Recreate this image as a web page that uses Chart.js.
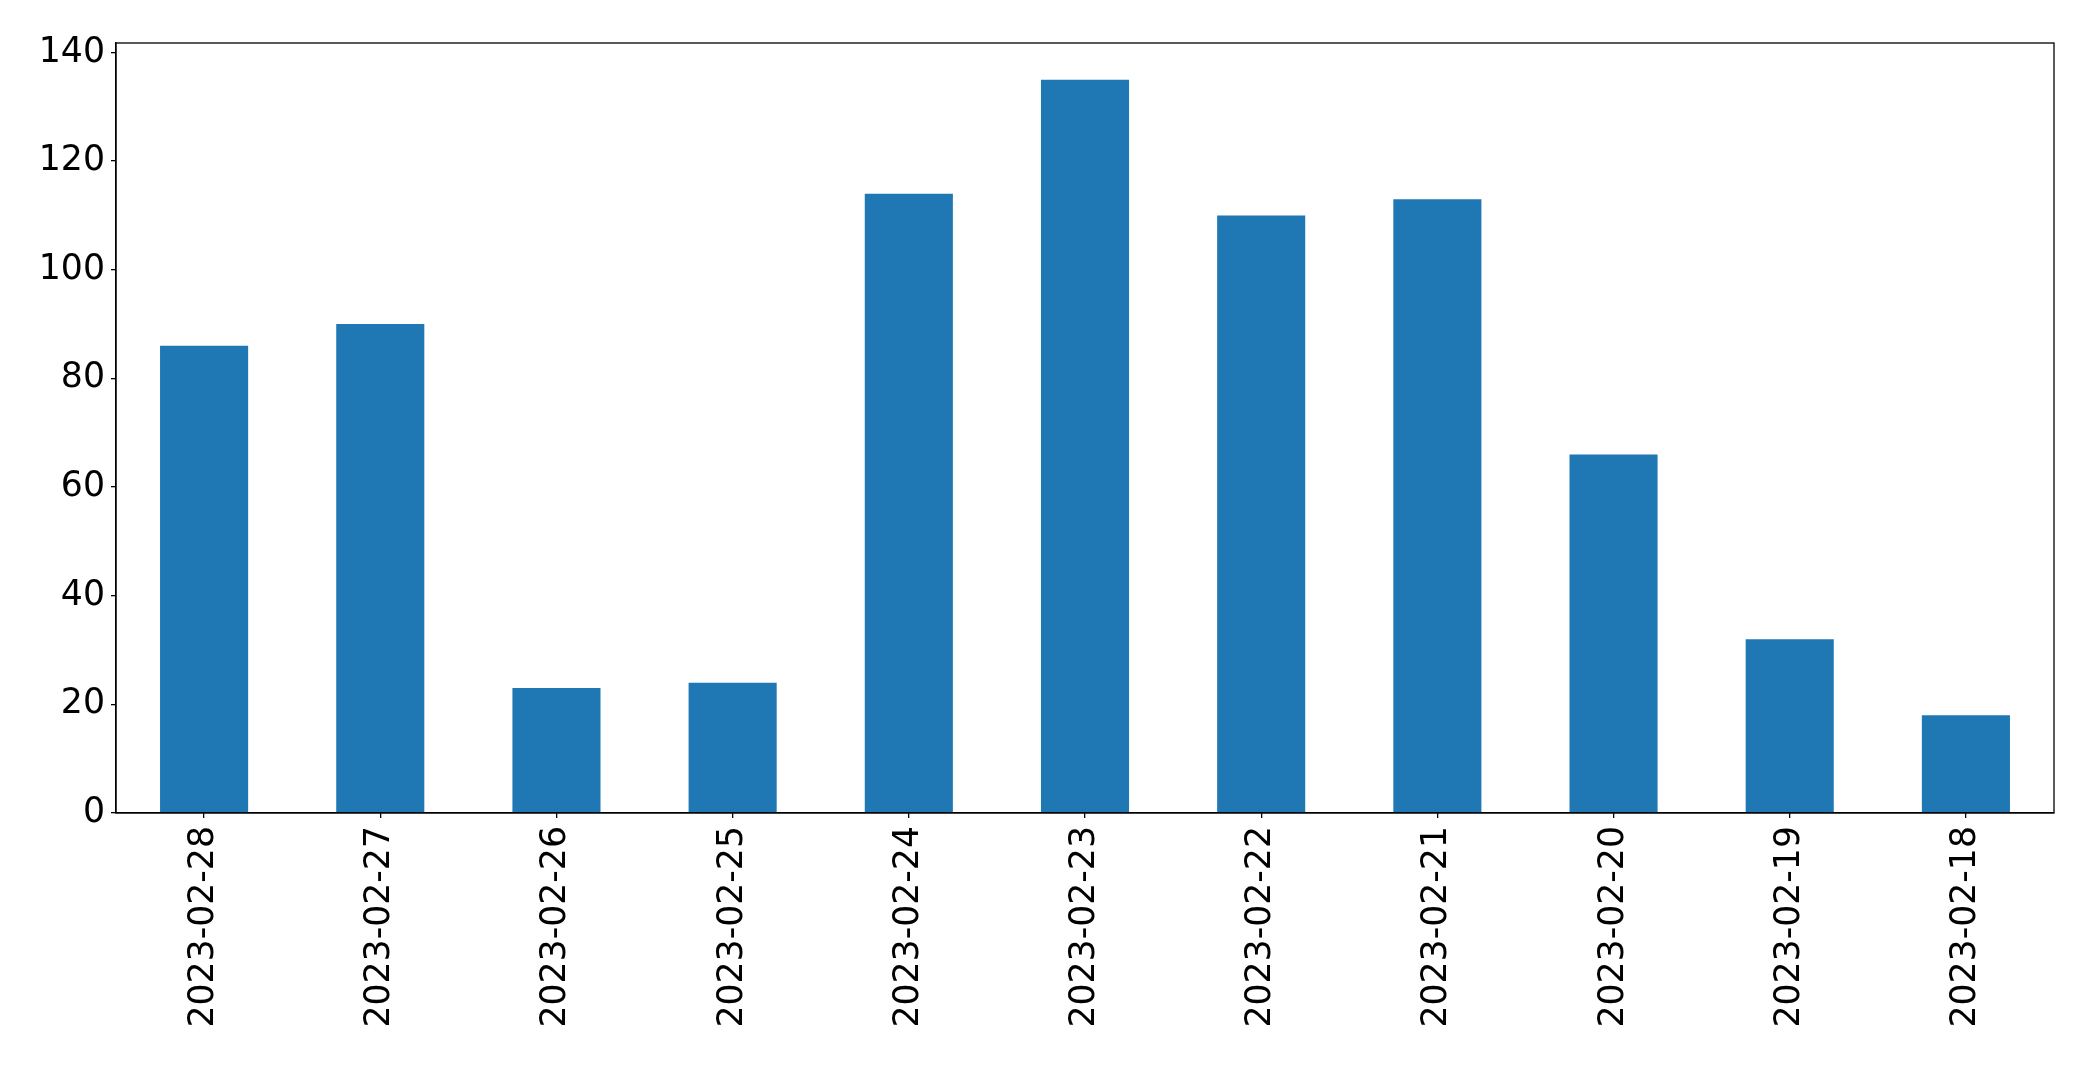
<!DOCTYPE html>
<html>
<head>
<meta charset="utf-8">
<script src="https://cdn.jsdelivr.net/npm/chart.js@4/dist/chart.umd.min.js"></script>
<style>
  body { margin: 0; background: #fff; }
</style>
</head>
<body>
<canvas id="myChart" width="2093" height="1065"></canvas>
<script>
//my data
const dates = ['2023-02-28', '2023-02-27', '2023-02-26', '2023-02-25', '2023-02-24', '2023-02-23',
    '2023-02-22', '2023-02-21', '2023-02-20', '2023-02-19', '2023-02-18']
const counts = [86, 90, 23, 24, 114, 135, 110, 113, 66, 32, 18]
const yMax = 141.75   // matplotlib style 5% headroom over 135
const yStep = 20

// box around the plot area (top + right spines)
const frame = {
    id: 'frame',
    afterDatasetsDraw(chart) {
        const a = chart.chartArea
        const ctx = chart.ctx
        ctx.save()
        ctx.strokeStyle = '#000'
        ctx.lineWidth = 1.3
        ctx.strokeRect(a.left, a.top, a.right - a.left, a.bottom - a.top)
        ctx.restore()
    }
}

const tickFont = { family: "'DejaVu Sans', sans-serif", size: 34.7 }

const config = {
    type: 'bar',
    data: {
        labels: dates,
        datasets: [{
            data: counts,
            backgroundColor: '#1f77b4',
            borderWidth: 0,
            barPercentage: 0.5,
            categoryPercentage: 1.0,
        }]
    },
    plugins: [frame],
    options: {
        responsive: false,
        animation: false,
        layout: { padding: { top: 43, right: 39, left: 0, bottom: 0 } },
        plugins: {
            legend: { display: false },
            tooltip: { enabled: false },
        },
        scales: {
            x: {
                grid: { display: true, offset: false, drawOnChartArea: false, tickLength: 5, color: '#000', lineWidth: 1.3 },
                border: { display: true, color: '#000', width: 1.3 },
                ticks: { color: '#000', font: tickFont, minRotation: 90, maxRotation: 90, padding: 8, autoSkip: false },
                afterFit(scale) { scale.height = 252 },
            },
            y: {
                min: 0,
                max: yMax,
                grid: { display: true, drawOnChartArea: false, tickLength: 5, color: '#000', lineWidth: 1.3 },
                border: { display: true, color: '#000', width: 1.3 },
                ticks: { color: '#000', font: tickFont, stepSize: yStep, includeBounds: false, padding: 6 },
                afterFit(scale) { scale.width = 116 },
            }
        }
    }
}

// render
const myChart = new Chart(document.getElementById('myChart'), config)
</script>
</body>
</html>
